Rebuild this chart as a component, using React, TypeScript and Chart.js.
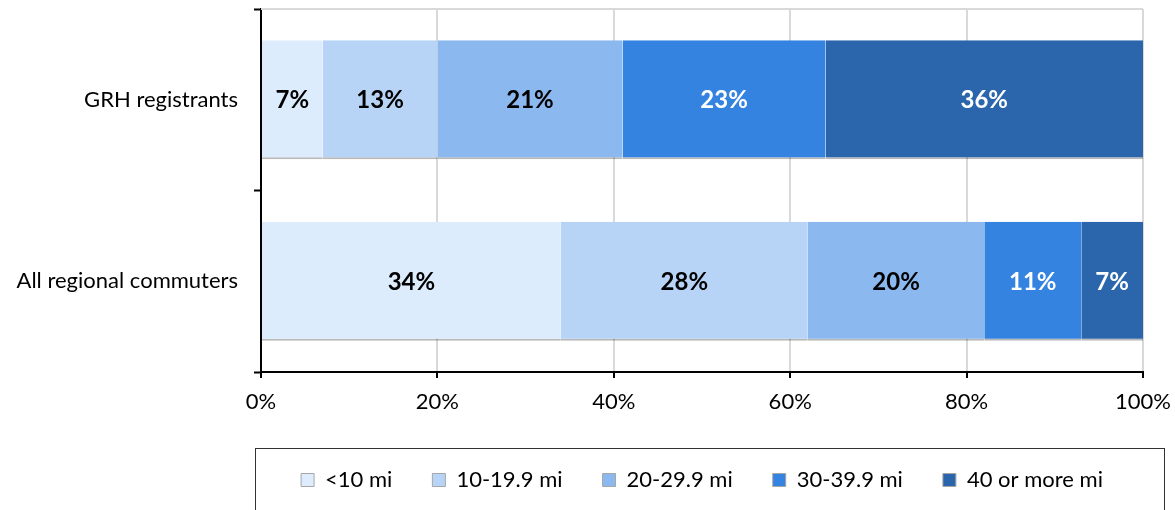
import React, { useEffect, useRef } from "react";
import { Chart, registerables } from "chart.js";

Chart.register(...registerables);

const categories = ["GRH registrants", "All regional commuters"];
const seriesNames = ["<10 mi", "10-19.9 mi", "20-29.9 mi", "30-39.9 mi", "40 or more mi"];
const under10 = [7, 34];
const from10to19 = [13, 28];
const from20to29 = [21, 20];
const from30to39 = [23, 11];
const over40 = [36, 7];
const xTickValues = [0, 20, 40, 60, 80, 100];

const seriesValues = [under10, from10to19, from20to29, from30to39, over40];
const fillColors = ["#ddecfc", "#b7d4f7", "#8ab8ef", "#3483e0", "#2b66ad"];
const labelColors = ["#000000", "#000000", "#000000", "#ffffff", "#ffffff"];

const FONT = "Lato, 'Open Sans', sans-serif";
const LEGEND_PAD = 40;

const dataLabelPlugin = {
  id: "dataLabels",
  afterDatasetsDraw(chart: any) {
    const ctx = chart.ctx;
    ctx.save();
    ctx.font = `bold 24px ${FONT}`;
    ctx.textAlign = "center";
    ctx.textBaseline = "middle";
    chart.data.datasets.forEach((ds: any, i: number) => {
      const meta = chart.getDatasetMeta(i);
      meta.data.forEach((el: any, j: number) => {
        const { x, y, base } = el.getProps(["x", "y", "base"], true);
        ctx.fillStyle = labelColors[i];
        ctx.fillText(ds.data[j] + "%", (x + base) / 2, y + 1);
      });
    });
    ctx.restore();
  },
};

const framePlugin = {
  id: "frame",
  beforeDatasetsDraw(chart: any) {
    const { ctx, chartArea } = chart;
    ctx.save();
    ctx.strokeStyle = "#d9d9d9";
    ctx.lineWidth = 2;
    ctx.beginPath();
    ctx.moveTo(chartArea.left, chartArea.top);
    ctx.lineTo(chartArea.right, chartArea.top);
    ctx.stroke();
    ctx.restore();
  },
  afterDraw(chart: any) {
    const { ctx, chartArea } = chart;
    ctx.save();
    ctx.strokeStyle = "#333333";
    ctx.lineWidth = 1;
    const left = Math.round(chartArea.left - 6) + 0.5;
    const right = Math.round(chartArea.right + 21) + 0.5;
    const top = Math.round(chartArea.bottom + 76) + 0.5;
    ctx.strokeRect(left, top, right - left, 200);
    ctx.restore();
  },
};

export default function App() {
  const canvasRef = useRef<HTMLCanvasElement | null>(null);

  useEffect(() => {
    if (!canvasRef.current) return;
    const chart = new Chart(canvasRef.current, {
      type: "bar",
      data: {
        labels: categories,
        datasets: seriesValues.map((vals, i) => ({
          label: seriesNames[i],
          data: vals,
          backgroundColor: fillColors[i],
          borderColor: "rgba(0,0,0,0.28)",
          borderWidth: { top: 0, bottom: 2, left: 0, right: 0 },
          borderSkipped: false,
          barPercentage: 0.655,
          categoryPercentage: 1,
        })),
      },
      options: {
        indexAxis: "y",
        animation: false,
        responsive: true,
        maintainAspectRatio: false,
        layout: { padding: { left: 0, top: 9, right: 32, bottom: 9 } },
        scales: {
          x: {
            stacked: true,
            min: 0,
            max: 100,
            afterBuildTicks: (scale: any) => {
              scale.ticks = xTickValues.map((v) => ({ value: v }));
            },
            afterFit: (scale: any) => {
              scale.height = 97 - LEGEND_PAD;
              scale.paddingLeft = 0;
              scale.paddingRight = 0;
            },
            ticks: {
              callback: (v: any) => v + "%",
              color: "#000",
              font: { family: FONT, size: 22 },
              padding: 11,
              maxRotation: 0,
            },
            grid: {
              color: "#d9d9d9",
              lineWidth: 2,
              drawTicks: true,
              tickLength: 6,
              tickColor: "#000",
              tickWidth: 2,
            },
            border: { display: true, color: "#000", width: 2 },
          },
          y: {
            stacked: true,
            afterFit: (scale: any) => {
              scale.width = 261;
              scale.paddingTop = 0;
              scale.paddingBottom = 0;
            },
            ticks: {
              color: "#000",
              font: { family: FONT, size: 22 },
              padding: 16,
            },
            grid: {
              offset: true,
              drawOnChartArea: false,
              drawTicks: true,
              tickLength: 7,
              tickColor: "#000",
              tickWidth: 2,
            },
            border: { display: true, color: "#000", width: 2 },
          },
        },
        plugins: {
          legend: {
            position: "bottom",
            fullSize: false,
            labels: {
              boxWidth: 13,
              boxHeight: 13,
              padding: LEGEND_PAD,
              color: "#000",
              font: { family: FONT, size: 22 },
              generateLabels: (chart: any) =>
                chart.data.datasets.map((ds: any, i: number) => ({
                  text: ds.label,
                  fillStyle: fillColors[i],
                  strokeStyle: "#a6a6a6",
                  lineWidth: 1,
                  hidden: false,
                  datasetIndex: i,
                  fontColor: "#000",
                })),
            },
          },
          tooltip: { enabled: false },
        },
      },
      plugins: [dataLabelPlugin, framePlugin],
    } as any);
    return () => chart.destroy();
  }, []);

  return (
    <div style={{ position: "absolute", left: 0, top: 0, width: 1175, height: 510, background: "#fff" }}>
      <canvas ref={canvasRef} />
    </div>
  );
}
